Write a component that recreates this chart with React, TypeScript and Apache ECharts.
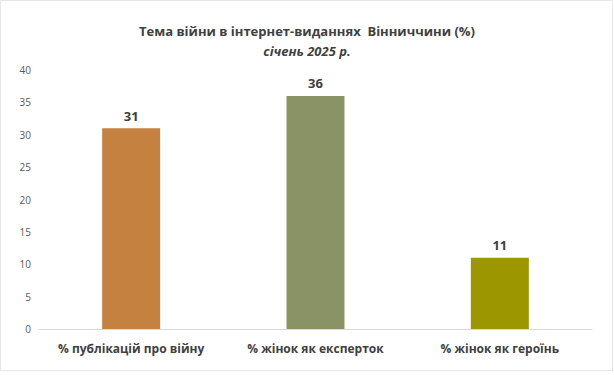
import React, { useEffect, useRef } from "react";
import * as echarts from "echarts";

const categories = ["% публікацій про війну", "% жінок як експерток", "% жінок як героїнь"];
const values = [31, 36, 11];
const barColors = ["#C4813F", "#8A9366", "#9C9600"];
const titleText = "Тема війни в інтернет-виданнях  Вінниччини (%)";
const subtitleText = "січень 2025 р.";

export default function App() {
  const ref = useRef<HTMLDivElement>(null);
  useEffect(() => {
    document.body.style.margin = "0";
    const chart = echarts.init(ref.current!, null, { renderer: "svg" });
    chart.setOption({
      animation: false,
      backgroundColor: "#ffffff",
      title: {
        text: titleText,
        subtext: subtitleText,
        left: "center",
        top: 19,
        itemGap: 7,
        textStyle: { fontFamily: "Open Sans", fontWeight: "bold", fontSize: 13, color: "#404040" },
        subtextStyle: { fontFamily: "Open Sans", fontWeight: "bold", fontStyle: "italic", fontSize: 13, color: "#404040" },
      },
      grid: { left: 39, right: 22, top: 70, bottom: 46 },
      xAxis: {
        type: "category",
        data: categories,
        axisLine: { lineStyle: { color: "#D9D9D9" } },
        axisTick: { show: false },
        axisLabel: {
          interval: 0,
          hideOverlap: false,
          fontFamily: "Open Sans",
          fontWeight: "bold",
          fontSize: 12,
          color: "#404040",
          margin: 13,
        },
      },
      yAxis: {
        type: "value",
        min: 0,
        max: 40,
        interval: 5,
        splitLine: { show: false },
        axisLine: { show: false },
        axisTick: { show: false },
        axisLabel: { fontFamily: "Open Sans", fontSize: 10, color: "#595959", margin: 8 },
      },
      series: [
        {
          type: "bar",
          barWidth: 58,
          data: values.map((v, i) => ({ value: v, itemStyle: { color: barColors[i] } })),
          label: {
            show: true,
            position: "top",
            distance: 6,
            fontFamily: "Open Sans",
            fontWeight: "bold",
            fontSize: 13,
            color: "#404040",
          },
        },
      ],
      graphic: [
        {
          type: "rect",
          shape: { x: 0.5, y: 0.5, width: 612, height: 370 },
          style: { fill: "none", stroke: "#E6E6E6", lineWidth: 1 },
          silent: true,
        },
      ],
    });
    return () => chart.dispose();
  }, []);
  return <div ref={ref} style={{ width: 614, height: 375 }} />;
}
